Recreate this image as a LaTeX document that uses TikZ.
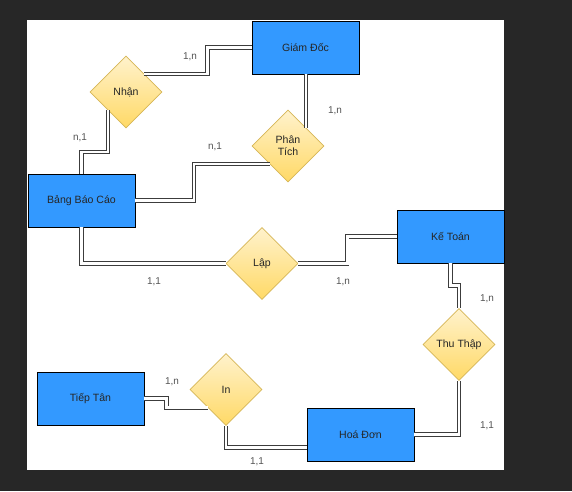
\documentclass[tikz,border=0pt]{standalone}
\usepackage{fontspec}
\setmainfont{Liberation Sans}
\usetikzlibrary{shapes.geometric}
\definecolor{darkbg}{HTML}{272727}
\definecolor{entblue}{HTML}{3399FF}
\definecolor{reltop}{HTML}{FFF2CC}
\definecolor{relbot}{HTML}{FFD966}
\definecolor{relborder}{HTML}{D6B656}
\definecolor{linkgray}{HTML}{3C3C3C}
\definecolor{cardgray}{HTML}{555555}
\begin{document}
\begin{tikzpicture}[x=.03cm,y=-.03cm,
    entity/.style={draw=black,line width=.8pt,fill=entblue,minimum width=3.21cm,
      minimum height=1.59cm,inner sep=0pt,text=black!85,font=\fontsize{9}{10.5}\selectfont},
    rel/.style={diamond,draw=relborder,line width=.6pt,top color=reltop,bottom color=relbot,
      minimum width=2.16cm,minimum height=2.16cm,aspect=1,inner sep=0pt,align=center,
      text=black!85,font=\fontsize{9}{10.5}\selectfont},
    link/.style={draw=linkgray,line width=.7pt,double=white,double distance=2.1pt},
    card/.style={text=cardgray,font=\fontsize{8.5}{10}\selectfont}]
      \useasboundingbox(0,0)rectangle(572,491);
      \fill[darkbg](0,0)rectangle(572,491);
      \fill[white](27,20)rectangle(504,470);
      % entities
      \node[entity](giamdoc) at (305.5,47.5){Giám Đốc};
      \node[entity](bangbc) at (81.5,200.5){Bảng Báo Cáo};
      \node[entity](ketoan) at (450.5,236.5){Kế Toán};
      \node[entity](tieptan) at (90.5,398.5){Tiếp Tân};
      \node[entity](hoadon) at (360.5,434.5){Hoá Đơn};
      % relations
      \node[rel](nhan) at (126,92){Nhận};
      \node[rel](phantich) at (288,146){Phân\\Tích};
      \node[rel](lap) at (262,263.5){Lập};
      \node[rel](thuthap) at (459,344.5){Thu Thập};
      \node[rel](inhd) at (226,389.5){In};
      % links
      \draw[link](giamdoc.west)--++(-44,0)|-(nhan.north east);
      \draw[link](phantich.north east|-giamdoc.south)--(phantich.north east);
      \draw[link](phantich.south west)--++(-76,0)|-(bangbc.east);
      \draw[link](nhan.south west)--++(0,42)-|(bangbc.north);
      \draw[link](bangbc.south)|-(lap.west);
      \draw[link](lap.east)--++(49,0)|-(ketoan.west);
      \draw[link](ketoan.south)--++(0,22)-|(thuthap.north);
      \draw[link](thuthap.south)|-(hoadon.east);
      \draw[link](inhd.south)|-([yshift=-.39cm]hoadon.west);
      \draw[link](tieptan.east)--++(22,0)|-(inhd.south west);
      % cardinalities
      \node[card](c1) at (190,57){1,n};
      \node[card](c2) at (335,111){1,n};
      \node[card](c3) at (80,138){n,1};
      \node[card](c4) at (215,147){n,1};
      \node[card](c5) at (154,282){1,1};
      \node[card](c6) at (343,282){1,n};
      \node[card](c7) at (487,299){1,n};
      \node[card](c8) at (487,426){1,1};
      \node[card](c9) at (257,462){1,1};
      \node[card](c10) at (172,382){1,n};
    \end{tikzpicture}
\end{document}
